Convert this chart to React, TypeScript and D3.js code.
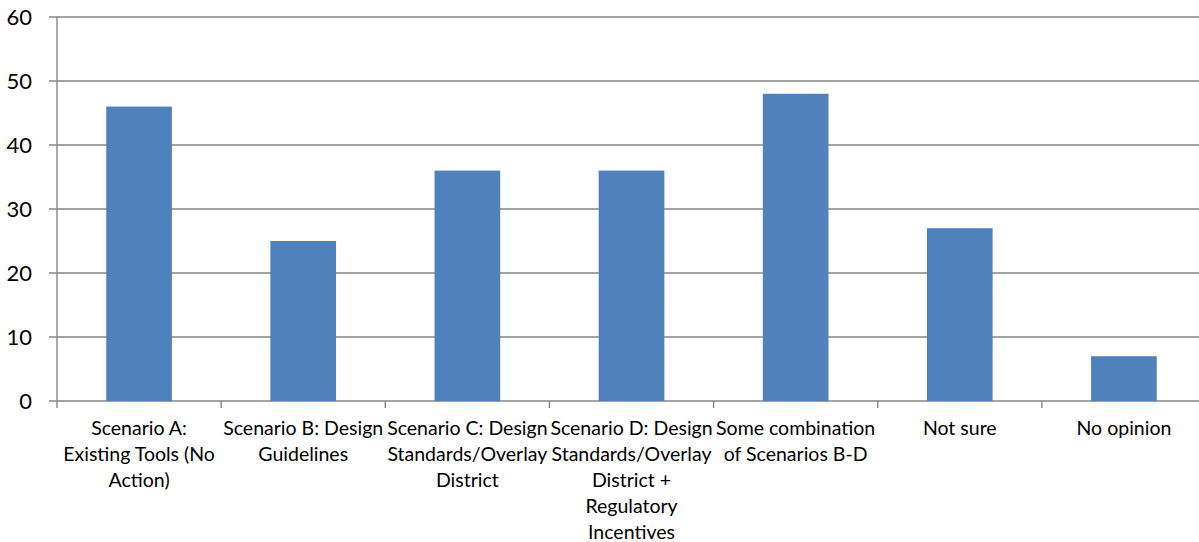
import React from "react";
import * as d3 from "d3";

const categories: string[][] = [
  ["Scenario A:", "Existing Tools (No", "Action)"],
  ["Scenario B: Design", "Guidelines"],
  ["Scenario C: Design", "Standards/Overlay", "District"],
  ["Scenario D: Design", "Standards/Overlay", "District +", "Regulatory", "Incentives"],
  ["Some combination", "of Scenarios B-D"],
  ["Not sure"],
  ["No opinion"],
];
const values: number[] = [46, 25, 36, 36, 48, 27, 7];
const yTicks: number[] = [0, 10, 20, 30, 40, 50, 60];

const W = 1199;
const H = 542;
const left = 57;
const right = 1206;
const top = 17;
const bottom = 401;

export default function App() {
  const keys = categories.map((_, i) => String(i));
  const x = d3.scaleBand<string>().domain(keys).range([left, right]).paddingInner(0.6).paddingOuter(0.3);
  const band = d3.scaleBand<string>().domain(keys).range([left, right]);
  const y = d3.scaleLinear().domain([0, 60]).range([bottom, top]);
  const grid = "#868686";
  return (
    <div style={{ position: "absolute", left: 0, top: 0 }}>
      <svg width={W} height={H} style={{ display: "block", fontFamily: "Lato, 'Open Sans', sans-serif" }}>
        <rect width={W} height={H} fill="#fff" />
        {yTicks.map((t) => (
          <g key={t}>
            <line x1={49} x2={right} y1={y(t)} y2={y(t)} stroke={grid} strokeWidth={1.4} />
            <text x={32} y={y(t)} dy="0.36em" textAnchor="end" fontSize={22} fill="#000">
              {t}
            </text>
          </g>
        ))}
        <line x1={left} x2={left} y1={top} y2={bottom} stroke={grid} strokeWidth={1.4} />
        {keys.map((k) => (
          <line key={"t" + k} x1={band(k)!} x2={band(k)!} y1={bottom} y2={408} stroke={grid} strokeWidth={1.4} />
        ))}
        {values.map((v, i) => (
          <rect
            key={"b" + i}
            x={x(String(i))!}
            width={x.bandwidth()}
            y={y(v)}
            height={y(0) - y(v)}
            fill="#4F81BD"
          />
        ))}
        {categories.map((lines, i) => (
          <text
            key={"l" + i}
            x={band(String(i))! + band.bandwidth() / 2}
            textAnchor="middle"
            fontSize={19.5}
            fill="#000"
          >
            {lines.map((ln, j) => (
              <tspan key={j} x={band(String(i))! + band.bandwidth() / 2} y={435 + j * 26}>
                {ln}
              </tspan>
            ))}
          </text>
        ))}
      </svg>
    </div>
  );
}
